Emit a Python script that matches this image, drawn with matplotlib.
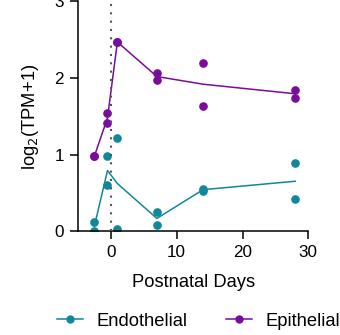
import matplotlib
matplotlib.use("Agg")
import matplotlib.pyplot as plt
import numpy as np

plt.rcParams['font.family'] = ['Liberation Sans', 'DejaVu Sans']

# postnatal day of each sample (two replicates per day)
days = [-2.5, -2.5, -0.5, -0.5, 1, 1, 7, 7, 14, 14, 28, 28]
endo = [0.00, 0.13, 0.98, 0.61, 1.22, 0.03, 0.26, 0.08, 0.56, 0.53, 0.89, 0.42]
epi = [0.98, 0.98, 1.55, 1.41, 2.47, 2.47, 2.06, 1.98, 2.20, 1.64, 1.85, 1.74]

teal = '#11879a'
purple = '#7a0c9c'

def day_means(x, y):
    ux = sorted(set(x))
    return ux, [np.mean([v for d, v in zip(x, y) if d == u]) for u in ux]

fig = plt.figure(figsize=(3.4, 3.35), dpi=100)
ax = fig.add_axes([0.229, 0.309, 0.678, 0.687])

ax.axvline(0, color='#555555', ls=(0, (1, 3)), lw=1.5, zorder=3)

for y, c, name in [(endo, teal, 'Endothelial'), (epi, purple, 'Epithelial')]:
    mx, my = day_means(days, y)
    ax.plot(mx, my, color=c, lw=1.1, zorder=2)
    ax.plot(days, y, 'o', color=c, ms=5.2, zorder=2)
    ax.plot([], [], '-o', color=c, ms=5.0, lw=1.1, label=name)

ax.set_xlim(-5, 30)
ax.set_ylim(0, 3)
ax.set_xticks([0, 10, 20, 30])
ax.set_yticks([0, 1, 2, 3])
ax.spines[['top', 'right']].set_visible(False)
for s in ['left', 'bottom']:
    ax.spines[s].set_linewidth(1.1)
ax.tick_params(length=6, width=1.1, labelsize=12.3, pad=4)
ax.set_xlabel('Postnatal Days', fontsize=13.2, labelpad=10)
ax.set_ylabel('log$_2$(TPM+1)', fontsize=13.2, labelpad=10)

fig.legend(loc='center left', bbox_to_anchor=(57 / 340, 1 - 321 / 335), ncol=2, frameon=False,
           fontsize=13.2, handlelength=1.42, columnspacing=2.05, handletextpad=0.76,
           borderpad=0, borderaxespad=0)

fig.savefig('out.png', dpi=100)
